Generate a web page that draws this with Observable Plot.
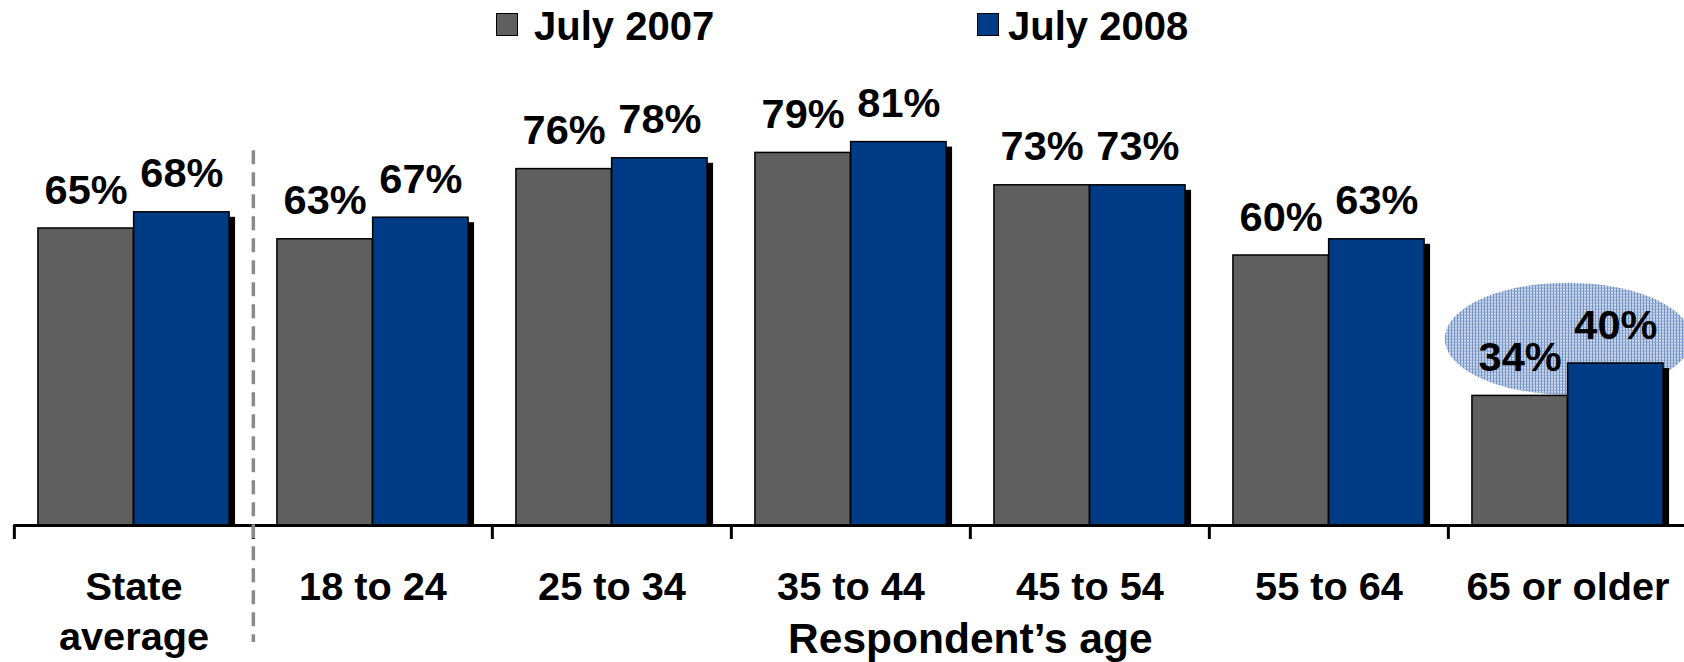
<!DOCTYPE html>
<html>
<head>
<meta charset="utf-8">
<script src="https://cdn.jsdelivr.net/npm/d3@7"></script>
<script src="https://cdn.jsdelivr.net/npm/@observablehq/plot@0.6"></script>
<style>
  html, body { margin: 0; padding: 0; background: #fff; }
  #wrap { position: relative; width: 1684px; height: 662px; overflow: hidden; font-family: "Liberation Sans", Arial, sans-serif; }
  .lg-sw { position: absolute; top: 13px; width: 20px; height: 21px; border: 1.5px solid #000; }
  .lg-tx { position: absolute; top: 5.5px; font-size: 40px; font-weight: bold; line-height: 1; color: #000; white-space: nowrap; }
</style>
</head>
<body>
<div id="wrap"></div>
<script>
// ---- data ----
const categories = ["State average", "18 to 24", "25 to 34", "35 to 44", "45 to 54", "55 to 64", "65 or older"];
const categoryLabels = ["State\naverage", "18 to 24", "25 to 34", "35 to 44", "45 to 54", "55 to 64", "65 or older"];
const seriesNames = ["July 2007", "July 2008"];
const values2007 = [65, 63, 76, 79, 73, 60, 34];
const values2008 = [68, 67, 78, 81, 73, 63, 40];
const seriesColors = ["#5f5f5f", "#003c85"];
const axisTitle = "Respondent\u2019s age";
const yMin = 10;            // value at the category axis
const yMax = 100;
const dividerTop = 79.4;    // top of the dashed divider, in % units
const highlight = [{category: "65 or older", value: 44.6}];

const table = [];
categories.forEach((c, i) => {
  table.push({category: c, series: seriesNames[0], value: values2007[i]});
  table.push({category: c, series: seriesNames[1], value: values2008[i]});
});

// ---- layout ----
const W = 1684, H = 662;
const marginLeft = 13.4, marginRight = -4.5, marginTop = 39, marginBottom = 137;
const bw = (W - marginLeft - marginRight) / categories.length;
const fontFamily = "'Liberation Sans', Arial, sans-serif";
const fsValue = 41.5, fsCat = 39.7, fsTitle = 42.5;

// ellipse symbol for the highlight
const ellipseSymbol = {
  draw(ctx, size) {
    const ry = Math.sqrt(size / Math.PI), rx = ry * 2.2, k = 0.5522847;
    ctx.moveTo(rx, 0);
    ctx.bezierCurveTo(rx, ry * k, rx * k, ry, 0, ry);
    ctx.bezierCurveTo(-rx * k, ry, -rx, ry * k, -rx, 0);
    ctx.bezierCurveTo(-rx, -ry * k, -rx * k, -ry, 0, -ry);
    ctx.bezierCurveTo(rx * k, -ry, rx, -ry * k, rx, 0);
    ctx.closePath();
  }
};

const seriesMarks = [];
seriesNames.forEach((s, i) => {
  const data = table.filter(d => d.series === s);
  const insetLeft = bw * (0.1 + 0.4 * i);
  const insetRight = bw * (0.1 + 0.4 * (1 - i));
  seriesMarks.push(
    Plot.barY(data, {x: "category", y1: () => yMin, y2: "value", fill: "#000", dx: 6, dy: 5, insetLeft, insetRight, clip: true}),
  );
});
seriesNames.forEach((s, i) => {
  const data = table.filter(d => d.series === s);
  const insetLeft = bw * (0.1 + 0.4 * i);
  const insetRight = bw * (0.1 + 0.4 * (1 - i));
  seriesMarks.push(
    Plot.barY(data, {x: "category", y1: () => yMin, y2: "value", fill: seriesColors[i], stroke: "#000", strokeWidth: 1.5, insetLeft, insetRight, clip: true})
  );
});
const labelMarks = seriesNames.map((s, i) =>
  Plot.text(table.filter(d => d.series === s), {
    x: "category", y: "value", text: d => `${d.value}%`,
    dx: (i === 0 ? -0.2 : 0.2) * bw, dy: -25, lineAnchor: "bottom",
    fontSize: fsValue, fontWeight: "bold", fill: "#000"
  })
);

const lh = 1.26;
const chart = Plot.plot({
  width: W, height: H,
  marginLeft, marginRight, marginTop, marginBottom,
  style: {fontFamily, background: "transparent", overflow: "visible"},
  x: {type: "band", domain: categories, padding: 0, axis: null},
  y: {domain: [yMin, yMax], axis: null},
  marks: [
    Plot.dot(highlight, {x: "category", y: "value", r: 56, symbol: ellipseSymbol, fill: "url(#gridpat)", stroke: "none"}),
    ...seriesMarks,
    ...labelMarks,
    // category axis line
    Plot.ruleY([yMin], {stroke: "#000", strokeWidth: 3}),
    // tick marks at band boundaries
    Plot.ruleX(categories, {x: d => d, y1: () => yMin, y2: () => yMin, dx: -bw / 2, insetBottom: -14, insetTop: 0, stroke: "#000", strokeWidth: 3}),
    // dashed divider between the state average and age groups
    Plot.ruleX([categories[1]], {x: d => d, y1: () => dividerTop, y2: () => yMin, dx: -bw / 2, insetBottom: -117, stroke: "#8a8a8a", strokeWidth: 3.5, strokeDasharray: "14,8"}),
    // category labels
    Plot.text(categories, {x: d => d, text: (d, i) => categoryLabels[i], frameAnchor: "bottom", lineAnchor: "top", lineHeight: lh, dy: 74 - 0.71 * lh * fsCat, fontSize: fsCat, fontWeight: "bold", fill: "#000"}),
    // axis title
    Plot.text([axisTitle], {x: () => categories[4], text: d => d, dx: -bw / 2, frameAnchor: "bottom", lineAnchor: "bottom", dy: 127, fontSize: fsTitle, fontWeight: "bold", fill: "#000"})
  ]
});

// pattern definition for the highlight ellipse
const svg = d3.select(chart.tagName.toLowerCase() === "svg" ? chart : chart.querySelector("svg"));
const defs = svg.insert("defs", ":first-child");
const pat = defs.append("pattern").attr("id", "gridpat").attr("patternUnits", "userSpaceOnUse").attr("width", 3).attr("height", 3);
pat.append("rect").attr("width", 3).attr("height", 3).attr("fill", "#d0dcee");
pat.append("rect").attr("width", 1).attr("height", 3).attr("fill", "#6f8ec2");
pat.append("rect").attr("width", 3).attr("height", 1).attr("fill", "#84a0cc");

const wrap = document.getElementById("wrap");
wrap.appendChild(chart);

// legend (HTML, overlaid above the chart)
const legendItems = [
  {name: seriesNames[0], color: seriesColors[0], sw: 496, tx: 534},
  {name: seriesNames[1], color: seriesColors[1], sw: 977, tx: 1008}
];
legendItems.forEach(it => {
  const sw = document.createElement("div");
  sw.className = "lg-sw"; sw.style.left = it.sw + "px"; sw.style.background = it.color;
  const tx = document.createElement("div");
  tx.className = "lg-tx"; tx.style.left = it.tx + "px"; tx.textContent = it.name;
  wrap.appendChild(sw); wrap.appendChild(tx);
});
</script>
</body>
</html>
